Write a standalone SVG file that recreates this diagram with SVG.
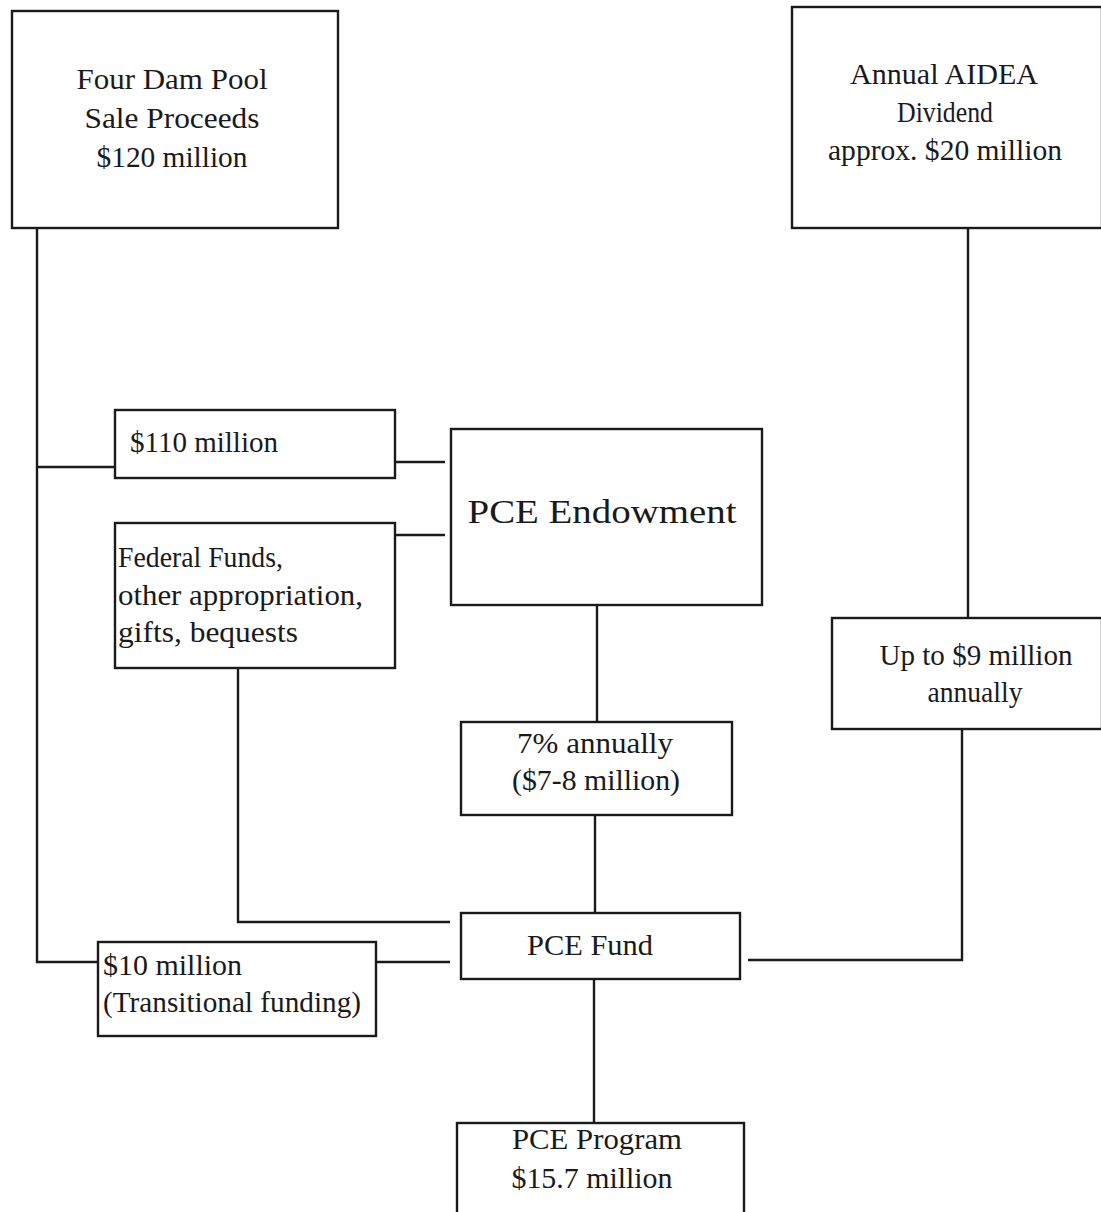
<svg xmlns="http://www.w3.org/2000/svg" width="1101" height="1212" viewBox="0 0 1101 1212">
<style>
.box{fill:#fff;stroke:#1a1a1a;stroke-width:2.4}
.ln{fill:none;stroke:#1a1a1a;stroke-width:2.4}
text{font-family:"Liberation Serif","Times New Roman",serif;font-size:30px;fill:#1a1a1a}
.c{text-anchor:middle}
.big{font-size:34px}
</style>
<rect width="1101" height="1212" fill="#fff"/>
<g id="connectors">
<polyline class="ln" points="37,228 37,962 98,962"/>
<line class="ln" x1="37" y1="467" x2="115" y2="467"/>
<line class="ln" x1="395" y1="462" x2="445" y2="462"/>
<line class="ln" x1="395" y1="535" x2="445" y2="535"/>
<polyline class="ln" points="238,668 238,922 450,922"/>
<line class="ln" x1="597" y1="605" x2="597" y2="722"/>
<line class="ln" x1="595" y1="815" x2="595" y2="913"/>
<line class="ln" x1="376" y1="962" x2="450" y2="962"/>
<line class="ln" x1="968" y1="228" x2="968" y2="618"/>
<polyline class="ln" points="962,729 962,960 748,960"/>
<line class="ln" x1="594" y1="979" x2="594" y2="1122"/>
</g>
<g id="four-dam-pool">
<rect class="box" x="12" y="11" width="326" height="217"/>
<text class="c" x="172" y="89" textLength="191" lengthAdjust="spacingAndGlyphs">Four Dam Pool</text>
<text class="c" x="172" y="128" textLength="175" lengthAdjust="spacingAndGlyphs">Sale Proceeds</text>
<text class="c" x="172" y="167" textLength="151" lengthAdjust="spacingAndGlyphs">$120 million</text>
</g>
<g id="aidea-dividend">
<rect class="box" x="792" y="7" width="310" height="221"/>
<text class="c" x="944" y="84" textLength="188" lengthAdjust="spacingAndGlyphs">Annual AIDEA</text>
<text class="c" x="945" y="122" textLength="96" lengthAdjust="spacingAndGlyphs">Dividend</text>
<text class="c" x="945" y="160" textLength="234" lengthAdjust="spacingAndGlyphs">approx. $20 million</text>
</g>
<g id="s110-million">
<rect class="box" x="115" y="410" width="280" height="68"/>
<text x="130" y="452" textLength="148" lengthAdjust="spacingAndGlyphs">$110 million</text>
</g>
<g id="pce-endowment">
<rect class="box" x="451" y="429" width="311" height="176"/>
<text class="c big" x="602" y="523" textLength="269" lengthAdjust="spacingAndGlyphs">PCE Endowment</text>
</g>
<g id="federal-funds">
<rect class="box" x="115" y="523" width="280" height="145"/>
<text x="118" y="567" textLength="165" lengthAdjust="spacingAndGlyphs">Federal Funds,</text>
<text x="118" y="605" textLength="245" lengthAdjust="spacingAndGlyphs">other appropriation,</text>
<text x="118" y="642" textLength="180" lengthAdjust="spacingAndGlyphs">gifts, bequests</text>
</g>
<g id="seven-percent">
<rect class="box" x="461" y="722" width="271" height="93"/>
<text class="c" x="595" y="753" textLength="156" lengthAdjust="spacingAndGlyphs">7% annually</text>
<text class="c" x="596" y="790" textLength="168" lengthAdjust="spacingAndGlyphs">($7-8 million)</text>
</g>
<g id="up-to-9-million">
<rect class="box" x="832" y="618" width="270" height="111"/>
<text class="c" x="976" y="665" textLength="193" lengthAdjust="spacingAndGlyphs">Up to $9 million</text>
<text class="c" x="975" y="702" textLength="95" lengthAdjust="spacingAndGlyphs">annually</text>
</g>
<g id="pce-fund">
<rect class="box" x="461" y="913" width="279" height="66"/>
<text class="c" x="590" y="955" textLength="126" lengthAdjust="spacingAndGlyphs">PCE Fund</text>
</g>
<g id="s10-million">
<rect class="box" x="98" y="942" width="278" height="94"/>
<text x="103" y="975" textLength="139" lengthAdjust="spacingAndGlyphs">$10 million</text>
<text x="103" y="1012" textLength="258" lengthAdjust="spacingAndGlyphs">(Transitional funding)</text>
</g>
<g id="pce-program">
<rect class="box" x="457" y="1123" width="287" height="100"/>
<text class="c" x="597" y="1149" textLength="170" lengthAdjust="spacingAndGlyphs">PCE Program</text>
<text class="c" x="592" y="1188" textLength="161" lengthAdjust="spacingAndGlyphs">$15.7 million</text>
</g>
</svg>
